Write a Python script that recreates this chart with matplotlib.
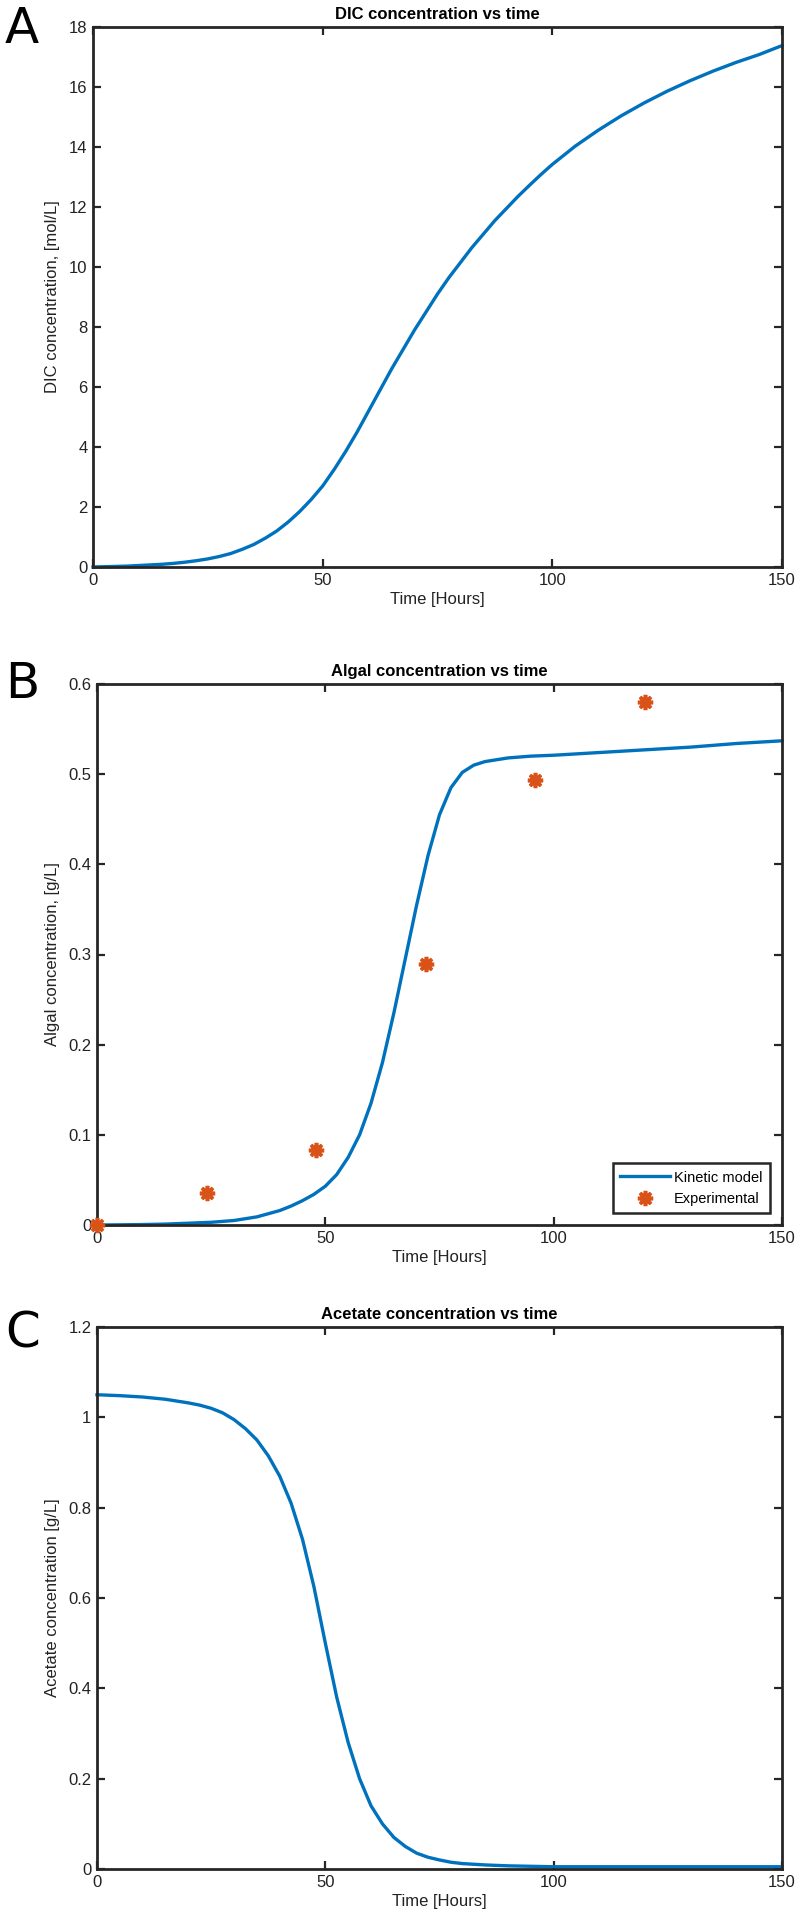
import numpy as np
import matplotlib
matplotlib.use("Agg")
import matplotlib.pyplot as plt
from matplotlib.ticker import FormatStrFormatter

# --- data ---
t_dic = [0, 2.5, 5, 7.5, 10, 12.5, 15, 17.5, 20, 22.5, 25, 27.5, 30, 32.5, 35, 37.5, 40,
         42.5, 45, 47.5, 50, 52.5, 55, 57.5, 60, 62.5, 65, 67.5, 70, 72.5, 75, 77.5, 80,
         82.5, 85, 87.5, 90, 92.5, 95, 97.5, 100, 105, 110, 115, 120, 125, 130, 135, 140,
         145, 150]
dic = [0.0, 0.01, 0.02, 0.03, 0.05, 0.07, 0.09, 0.12, 0.16, 0.21, 0.27, 0.35, 0.45, 0.59,
       0.75, 0.96, 1.2, 1.5, 1.85, 2.25, 2.7, 3.25, 3.85, 4.5, 5.2, 5.9, 6.6, 7.25, 7.9,
       8.5, 9.1, 9.65, 10.15, 10.65, 11.1, 11.55, 11.95, 12.35, 12.72, 13.08, 13.42, 14.03,
       14.56, 15.04, 15.47, 15.86, 16.21, 16.53, 16.82, 17.08, 17.38]

t_algae = [0, 5, 10, 15, 20, 25, 30, 35, 40, 42.5, 45, 47.5, 50, 52.5, 55, 57.5, 60, 62.5,
           65, 67.5, 70, 72.5, 75, 77.5, 80, 82.5, 85, 87.5, 90, 95, 100, 110, 120, 130,
           140, 150]
algae = [0.0, 0.0002, 0.0005, 0.001, 0.002, 0.003, 0.005, 0.009, 0.016, 0.021, 0.027,
         0.034, 0.043, 0.056, 0.075, 0.1, 0.135, 0.18, 0.235, 0.295, 0.355, 0.41, 0.455,
         0.485, 0.502, 0.51, 0.514, 0.516, 0.518, 0.52, 0.521, 0.524, 0.527, 0.530, 0.534,
         0.537]

t_exp = [0, 24, 48, 72, 96, 120]
algae_exp = [0.0, 0.035, 0.083, 0.29, 0.493, 0.58]

t_acetate = [0, 5, 10, 15, 20, 22.5, 25, 27.5, 30, 32.5, 35, 37.5, 40, 42.5, 45, 47.5, 50,
             52.5, 55, 57.5, 60, 62.5, 65, 67.5, 70, 72.5, 75, 77.5, 80, 85, 90, 95, 100,
             110, 120, 130, 140, 150]
acetate = [1.05, 1.048, 1.045, 1.04, 1.032, 1.027, 1.02, 1.01, 0.995, 0.975, 0.95, 0.915,
           0.87, 0.81, 0.73, 0.625, 0.50, 0.38, 0.28, 0.2, 0.14, 0.1, 0.07, 0.05, 0.035,
           0.026, 0.02, 0.015, 0.012, 0.009, 0.007, 0.006, 0.005, 0.005, 0.005, 0.005,
           0.005, 0.005]

BLUE = "#0072BD"
ORANGE = "#D95319"
DARK = "#262626"
W, H = 799, 1918

plt.rcParams['font.family'] = ['Liberation Sans', 'DejaVu Sans']

fig = plt.figure(figsize=(W / 100, H / 100), dpi=100)


def make_axes(left, right, top, bottom):
    return fig.add_axes([left / W, 1 - bottom / H, (right - left) / W, (bottom - top) / H])


def style(ax, ylim, yticks, title, ylabel):
    ax.set_xlim(0, 150)
    ax.set_ylim(*ylim)
    ax.set_xticks([0, 50, 100, 150])
    ax.set_yticks(yticks)
    ax.yaxis.set_major_formatter(FormatStrFormatter('%g'))
    ax.tick_params(direction='in', top=True, right=True, length=6, width=1.6,
                   colors=DARK, labelsize=12, pad=4, labelcolor='#222222')
    for sp in ax.spines.values():
        sp.set_linewidth(2.0)
        sp.set_color(DARK)
    ax.set_title(title, fontsize=12, fontweight='bold', pad=6, color='black')
    ax.set_xlabel("Time [Hours]", fontsize=12, labelpad=3, color='#222222')
    ax.set_ylabel(ylabel, fontsize=12, labelpad=6, color='#222222')


# Panel A
axA = make_axes(93, 782, 27, 567)
axA.plot(t_dic, dic, color=BLUE, lw=2.4, clip_on=False)
style(axA, (0, 18), np.arange(0, 19, 2), "DIC concentration vs time",
      "DIC concentration, [mol/L]")

# Panel B
axB = make_axes(97, 782, 684, 1225)
axB.plot(t_algae, algae, color=BLUE, lw=2.4, label="Kinetic model", clip_on=False)
axB.plot(t_exp, algae_exp, linestyle='none', marker=(8, 2, 0), markersize=11,
         markeredgewidth=2.6, color=ORANGE, label="Experimental", clip_on=False, zorder=5)
style(axB, (0, 0.6), np.arange(0, 0.61, 0.1), "Algal concentration vs time",
      "Algal concentration, [g/L]")
leg = axB.legend(loc='lower right', bbox_to_anchor=(0.982, 0.022), borderaxespad=0,
                 fontsize=10.5, fancybox=False, framealpha=1, handlelength=3.4,
                 handletextpad=0.3, borderpad=0.5, labelspacing=0.5)
leg.get_frame().set_edgecolor(DARK)
leg.get_frame().set_linewidth(1.8)

# Panel C
axC = make_axes(97, 782, 1327, 1869)
axC.plot(t_acetate, acetate, color=BLUE, lw=2.4, clip_on=False)
style(axC, (0, 1.2), np.arange(0, 1.21, 0.2), "Acetate concentration vs time",
      "Acetate concentration [g/L]")

# panel letters
for letter, top in [("A", 5), ("B", 660), ("C", 1310)]:
    fig.text(5 / W, 1 - top / H, letter, fontsize=36, family='DejaVu Sans',
             va='top', ha='left')

fig.savefig("out.png", dpi=100)
